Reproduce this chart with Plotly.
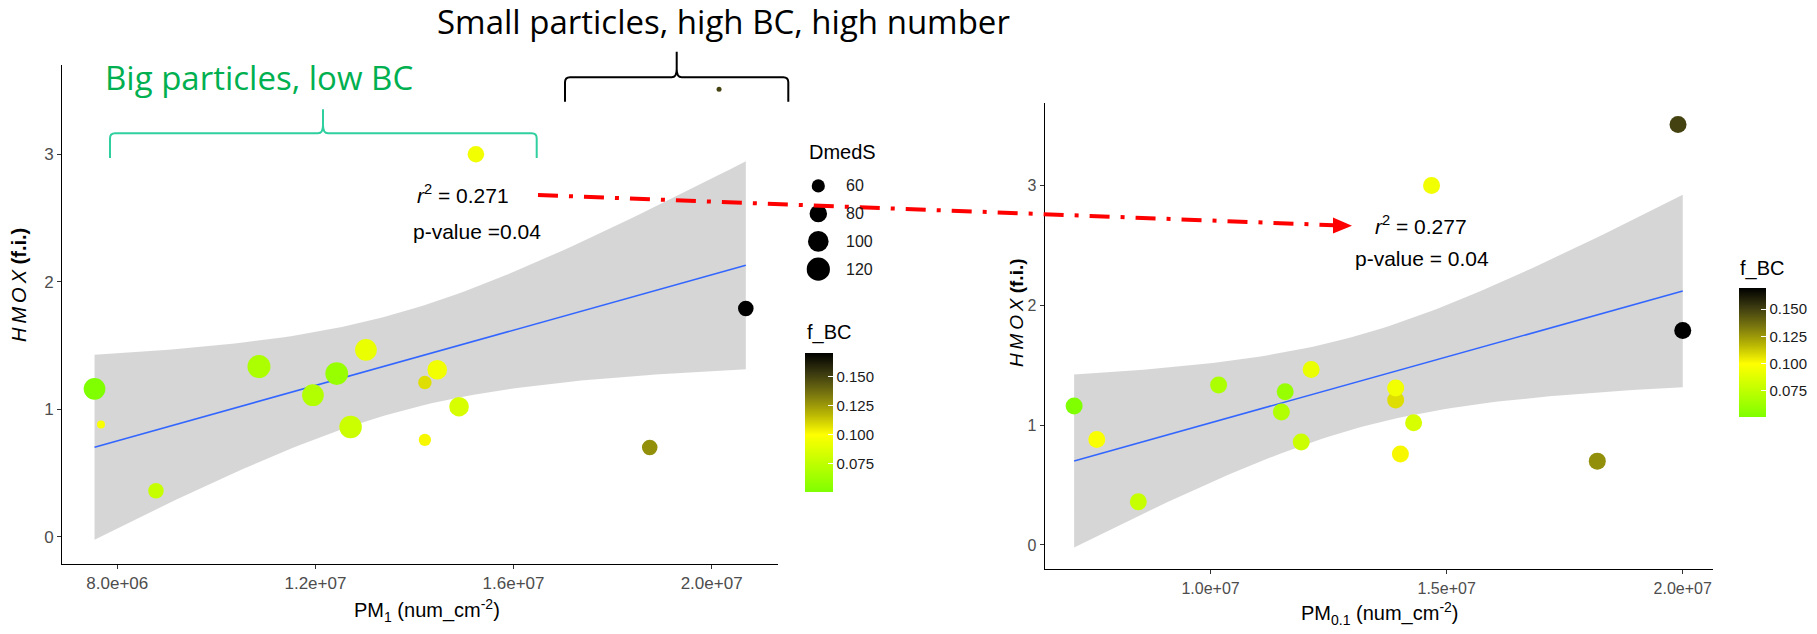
import numpy as np
import plotly.graph_objects as go

W, H = 1817, 634

# ---------------- data ----------------
hmox = [1.16, 0.88, 0.36, 1.335, 1.11, 1.28, 0.86, 1.465, 1.21, 0.76, 1.31, 1.02, 0.70, 1.79, 3.00, 3.51]
pm1 = [7.54e6, 7.67e6, 8.78e6, 10.86e6, 11.95e6, 12.43e6, 12.71e6, 13.02e6,
       14.21e6, 14.21e6, 14.46e6, 14.90e6, 18.75e6, 20.69e6, 15.24e6, 20.15e6]
pm01 = [7.11e6, 7.59e6, 8.47e6, 10.17e6, 11.50e6, 11.58e6, 11.92e6, 12.13e6,
        13.92e6, 14.02e6, 13.92e6, 14.30e6, 18.19e6, 20.00e6, 14.68e6, 19.90e6]
dmeds = [108, 47, 70, 118, 108, 116, 114, 108, 61, 57, 93, 93, 70, 70, 75, 45]
f_bc = [0.051, 0.098, 0.078, 0.068, 0.070, 0.060, 0.080, 0.092,
        0.108, 0.102, 0.095, 0.085, 0.128, 0.170, 0.095, 0.150]

x1_tickvals = [8e6, 1.2e7, 1.6e7, 2.0e7]
x1_ticktext = ["8.0e+06", "1.2e+07", "1.6e+07", "2.0e+07"]
x2_tickvals = [1.0e7, 1.5e7, 2.0e7]
x2_ticktext = ["1.0e+07", "1.5e+07", "2.0e+07"]
y_tickvals = [0, 1, 2, 3]
cb_tickvals = [0.075, 0.100, 0.125, 0.150]
cb_ticktext = ["0.075", "0.100", "0.125", "0.150"]
size_legend_vals = [60, 80, 100, 120]

r2_left, p_left = "0.271", "0.04"
r2_right, p_right = "0.277", "0.04"

# ---------------- helpers ----------------
def px(x):
    return x / W

def py(y):
    return 1 - y / H

TICKF = "Liberation Sans, Arial, sans-serif"
HEADF = "Open Sans, sans-serif"

cmin, cmax = min(f_bc), max(f_bc)
ty = (0.100 - cmin) / (cmax - cmin)
colorscale = [
    [0.0, "#7FFF00"],
    [ty, "#FFFF00"],
    [ty + (1 - ty) * 0.25, "#B9B604"],
    [ty + (1 - ty) * 0.50, "#78750F"],
    [ty + (1 - ty) * 0.75, "#3B3A10"],
    [1.0, "#000000"],
]

smin, smax = min(dmeds), max(dmeds)
def size_scale(v, dmin=5.0, dmax=23.0):
    v = np.asarray(v, dtype=float)
    return dmin + (dmax - dmin) * np.sqrt(np.clip((v - smin) / (smax - smin), 0, None))

def smooth(x, y, n=80, tcrit=2.144787):
    x = np.asarray(x, float); y = np.asarray(y, float)
    b, a = np.polyfit(x, y, 1)
    resid = y - (a + b * x)
    s = np.sqrt(np.sum(resid ** 2) / (len(x) - 2))
    xb = x.mean(); sxx = np.sum((x - xb) ** 2)
    xs = np.linspace(x.min(), x.max(), n)
    yh = a + b * xs
    se = s * np.sqrt(1 / len(x) + (xs - xb) ** 2 / sxx)
    return xs, yh, yh - tcrit * se, yh + tcrit * se

fig = go.Figure()

def add_panel(xdata, xa, ya, sizes, cb):
    xs, yh, lo, hi = smooth(xdata, hmox)
    fig.add_trace(go.Scatter(x=xs, y=lo, mode="lines", line=dict(width=0), hoverinfo="skip",
                             showlegend=False, xaxis=xa, yaxis=ya))
    fig.add_trace(go.Scatter(x=xs, y=hi, mode="lines", line=dict(width=0), fill="tonexty",
                             fillcolor="rgba(153,153,153,0.4)", hoverinfo="skip",
                             showlegend=False, xaxis=xa, yaxis=ya))
    fig.add_trace(go.Scatter(x=xs, y=yh, mode="lines", line=dict(color="#3366FF", width=1.6),
                             showlegend=False, xaxis=xa, yaxis=ya))
    fig.add_trace(go.Scatter(
        x=xdata, y=hmox, mode="markers", showlegend=False, xaxis=xa, yaxis=ya,
        marker=dict(size=sizes, color=f_bc, colorscale=colorscale, cmin=cmin, cmax=cmax,
                    line=dict(width=0), opacity=1, showscale=True, colorbar=cb)))

def colorbar(x_left, y_top, length, thick):
    return dict(x=px(x_left), xanchor="left", y=py(y_top), yanchor="top",
                len=length, lenmode="pixels", thickness=thick, thicknessmode="pixels",
                xpad=0, ypad=0, outlinewidth=0, tickvals=cb_tickvals, ticktext=cb_ticktext,
                ticks="inside", ticklen=5, tickcolor="white", tickwidth=1,
                tickfont=dict(family=TICKF, size=15, color="#1A1A1A"))

add_panel(pm1, "x", "y", size_scale(dmeds), colorbar(805, 353, 139, 28))
add_panel(pm01, "x2", "y2", 17, colorbar(1738.5, 287.5, 129, 27))

# size legend (DmedS)
fig.add_trace(go.Scatter(x=[0] * len(size_legend_vals), y=list(range(len(size_legend_vals))),
                         mode="markers",
                         marker=dict(size=size_scale(size_legend_vals), color="#000000", opacity=1,
                                     line=dict(width=0)),
                         showlegend=False, hoverinfo="skip", xaxis="x3", yaxis="y3"))

axis_common = dict(showgrid=False, zeroline=False, showline=True, linecolor="black", linewidth=1,
                   ticks="outside", ticklen=4, tickcolor="#333333", tickwidth=1)

fig.update_layout(
    width=W, height=H, autosize=False, margin=dict(l=0, r=0, t=0, b=0),
    paper_bgcolor="white", plot_bgcolor="rgba(0,0,0,0)", showlegend=False,
    xaxis=dict(domain=[px(62), px(778)], range=[6.883e6, 2.134e7], anchor="y",
               tickvals=x1_tickvals, ticktext=x1_ticktext,
               tickfont=dict(family=TICKF, size=17, color="#4D4D4D"), **axis_common),
    yaxis=dict(domain=[py(564), py(65)], range=[-0.214, 3.70], anchor="x",
               tickvals=y_tickvals, tickfont=dict(family=TICKF, size=17, color="#4D4D4D"), **axis_common),
    xaxis2=dict(domain=[px(1044.6), px(1712.5)], range=[6.485e6, 2.063e7], anchor="y2",
                tickvals=x2_tickvals, ticktext=x2_ticktext,
                tickfont=dict(family=TICKF, size=16, color="#4D4D4D"), **axis_common),
    yaxis2=dict(domain=[py(569.3), py(103.3)], range=[-0.203, 3.687], anchor="x2",
                tickvals=y_tickvals, tickfont=dict(family=TICKF, size=16, color="#4D4D4D"), **axis_common),
    xaxis3=dict(domain=[px(806.3), px(830.3)], range=[-0.5, 0.5], visible=False, anchor="y3"),
    yaxis3=dict(domain=[py(283), py(172)], range=[3.5, -0.5], visible=False, anchor="x3"),
)

ann = []
def text(x, y, t, size, family=TICKF, color="black", xanchor="center", yanchor="middle", angle=0, yref="paper"):
    ann.append(dict(x=px(x), y=(py(y) if yref == "paper" else y), xref="paper", yref=yref, text=t,
                    showarrow=False, xanchor=xanchor, yanchor=yanchor, textangle=angle,
                    font=dict(family=family, size=size, color=color)))

ytitle = "<i>H\u2009M\u2009O\u2009X</i> <b>(f.i.)</b>"
# axis titles
text(19, 285, ytitle, 20, angle=-90)
text(1016, 313, ytitle, 19, angle=-90)
text(427, 610, "PM<sub>1</sub> (num_cm<sup>-2</sup>)", 20)
text(1380, 613, "PM<sub>0.1</sub> (num_cm<sup>-2</sup>)", 20)

# statistics
text(463, 194, "<i>r</i><sup>2</sup> = " + r2_left, 21)
text(477, 232, "p-value =" + p_left, 21)
text(1421, 225, "<i>r</i><sup>2</sup> = " + r2_right, 21)
text(1422, 258, "p-value = " + p_right, 21)

# legends
text(806.5, 152, "DmedS", 20, xanchor="left")
for i, v in enumerate(size_legend_vals):
    ann.append(dict(x=px(844), y=i, xref="paper", yref="y3", text=str(v), showarrow=False,
                    xanchor="left", yanchor="middle", font=dict(family=TICKF, size=16, color="#1A1A1A")))
text(805, 332, "f_BC", 20, xanchor="left")
text(1738, 268, "f_BC", 20, xanchor="left")

# headline notes
text(723, 21, "Small particles, high BC, high number", 33, family=HEADF, color="black")
text(259, 77, "Big particles, low BC", 33, family=HEADF, color="#00B050")

fig.update_layout(annotations=ann)

# braces
def brace(x0, x1, xm, yline, yend, ypeak, r=5):
    pts = [
        f"M {px(x0)} {py(yend)}", f"L {px(x0)} {py(yline + r)}",
        f"Q {px(x0)} {py(yline)} {px(x0 + r)} {py(yline)}",
        f"L {px(xm - r)} {py(yline)}", f"Q {px(xm)} {py(yline)} {px(xm)} {py(yline - r - 3)}",
        f"L {px(xm)} {py(ypeak)}",
        f"M {px(xm)} {py(yline - r - 3)}", f"Q {px(xm)} {py(yline)} {px(xm + r)} {py(yline)}",
        f"L {px(x1 - r)} {py(yline)}", f"Q {px(x1)} {py(yline)} {px(x1)} {py(yline + r)}",
        f"L {px(x1)} {py(yend)}",
    ]
    return " ".join(pts)

shapes = [
    dict(type="path", xref="paper", yref="paper", path=brace(110, 536.7, 323, 133.3, 158, 109.3),
         line=dict(color="#2FCF9F", width=2)),
    dict(type="path", xref="paper", yref="paper", path=brace(565, 788.3, 676.7, 77.3, 101.7, 51.7),
         line=dict(color="black", width=2)),
    dict(type="line", xref="paper", yref="paper", x0=px(538), y0=py(195), x1=px(1334), y1=py(225.2),
         line=dict(color="#FF0000", width=4, dash="20px,11px,4px,11px")),
    dict(type="path", xref="paper", yref="paper",
         path=f"M {px(1352)} {py(225.7)} L {px(1333)} {py(217.5)} L {px(1333)} {py(233.5)} Z",
         fillcolor="#FF0000", line=dict(color="#FF0000", width=0)),
]
fig.update_layout(shapes=shapes)

fig.write_html("out.html")
